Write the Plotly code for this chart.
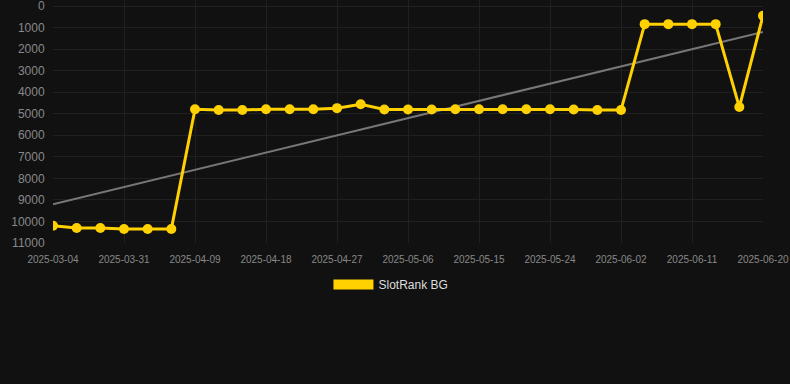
import numpy as np
import plotly.graph_objects as go

dates = ["2025-03-04", "2025-03-13", "2025-03-22", "2025-03-31", "2025-04-03", "2025-04-06",
         "2025-04-09", "2025-04-12", "2025-04-15", "2025-04-18", "2025-04-21", "2025-04-24",
         "2025-04-27", "2025-04-30", "2025-05-03", "2025-05-06", "2025-05-09", "2025-05-12",
         "2025-05-15", "2025-05-18", "2025-05-21", "2025-05-24", "2025-05-27", "2025-05-30",
         "2025-06-02", "2025-06-05", "2025-06-08", "2025-06-11", "2025-06-14", "2025-06-17",
         "2025-06-20"]
ranks = [10200, 10300, 10300, 10350, 10350, 10350,
         4790, 4830, 4830, 4790, 4790, 4790,
         4740, 4560, 4800, 4800, 4800, 4790,
         4790, 4790, 4790, 4790, 4800, 4830,
         4830, 840, 840, 840, 840, 4690,
         450]
series_name = "SlotRank BG"
y_ticks = [0, 1000, 2000, 3000, 4000, 5000, 6000, 7000, 8000, 9000, 10000, 11000]
y_tick_labels = [str(v) for v in y_ticks]
x_tick_labels = dates[::3]

idx = np.arange(len(ranks))
slope, intercept = np.polyfit(idx, ranks, 1)
trend = intercept + slope * idx

yellow = "#FFD100"
fig = go.Figure()
fig.add_trace(go.Scatter(x=dates, y=trend, mode="lines", line=dict(color="#777777", width=2),
                         showlegend=False, hoverinfo="skip"))
fig.add_trace(go.Scatter(x=dates, y=ranks, mode="lines+markers", name=series_name,
                         line=dict(color=yellow, width=3),
                         marker=dict(color=yellow, size=10), showlegend=False))
fig.add_trace(go.Scatter(x=[None], y=[None], mode="lines", name=series_name,
                         line=dict(color=yellow, width=11), showlegend=True))

fig.update_layout(
    width=790, height=384,
    paper_bgcolor="#111111", plot_bgcolor="#111111",
    margin=dict(l=53, r=27, t=0, b=141),
    font=dict(family="Liberation Sans, Arial, sans-serif"),
    legend=dict(orientation="h", x=0.476, xanchor="center", y=-0.111, yanchor="top",
                font=dict(color="#dddddd", size=12), itemwidth=40),
)
fig.update_xaxes(type="category", tickvals=x_tick_labels, ticktext=x_tick_labels,
                 range=[0, len(dates) - 1], automargin=False,
                 showgrid=True, gridcolor="#202020", gridwidth=1, zeroline=False,
                 showline=False, ticks="outside", ticklen=7, tickcolor="rgba(0,0,0,0)",
                 tickfont=dict(color="#888888", size=10))
fig.update_yaxes(range=[11000, -280], tickvals=y_ticks, ticktext=y_tick_labels,
                 automargin=False, ticklabeloverflow="allow",
                 showgrid=True, gridcolor="#202020",
                 gridwidth=1, zeroline=False, showline=False,
                 ticks="outside", ticklen=5, tickcolor="rgba(0,0,0,0)",
                 tickfont=dict(color="#888888", size=12))

fig.write_html("out.html", config={"displayModeBar": False})
with open("out.html", "r", encoding="utf-8") as f:
    html = f.read()
html = html.replace("<head>", "<head><style>html,body{margin:0;padding:0;background:#111111;overflow:hidden;}</style>", 1)
with open("out.html", "w", encoding="utf-8") as f:
    f.write(html)
